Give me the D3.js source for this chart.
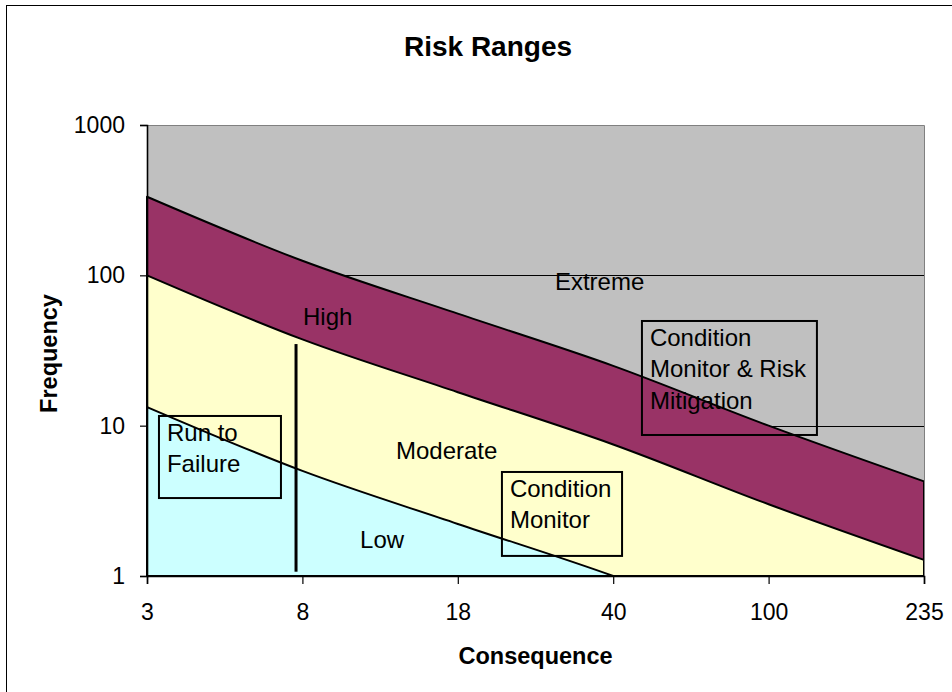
<!DOCTYPE html>
<html>
<head>
<meta charset="utf-8">
<script src="https://cdn.jsdelivr.net/npm/d3@7"></script>
<style>
  body { margin: 0; background: #fff; }
  svg { display: block; }
  text { font-family: Arial, "Liberation Sans", sans-serif; fill: #000; }
</style>
</head>
<body>
<svg id="chart" width="952" height="692"></svg>
<script>
// Consequence categories along the x axis
const categories = ["3", "8", "18", "40", "100", "235"];

// Frequency boundaries between risk bands, one value per category
const extremeBoundary = [333, 125, 55.6, 25, 10, 4.26];   // High / Extreme
const highBoundary    = [100, 37.5, 16.7, 7.5, 3, 1.28];  // Moderate / High
const lowBoundary     = [13.3, 5, 2.22, 1, 0.4, 0.17];    // Low / Moderate

// Log axis ticks and gridlines
const yTicks = [1, 10, 100, 1000];
const gridValues = [10, 100];

// Band names written inside the regions: [name, category position, frequency]
const bandLabels = [
  ["Extreme",  2.625, 80],
  ["High",     1.004, 46.7],
  ["Moderate", 1.602, 6.0],
  ["Low",      1.371, 1.53]
];

// Boxed notes: lines, left/right category position, top/bottom frequency
const notes = [
  { lines: ["Run to", "Failure"], i0: 0.077, i1: 0.862, top: 11.6, bottom: 3.30 },
  { lines: ["Condition", "Monitor"], i0: 2.284, i1: 3.057, top: 4.92, bottom: 1.36 },
  { lines: ["Condition", "Monitor & Risk", "Mitigation"], i0: 3.185, i1: 4.311, top: 49.7, bottom: 8.67 }
];

// Divider marking the run-to-failure limit
const divider = { i: 0.959, from: 1.068, to: 34.9 };

const svg = d3.select("#chart");
const plot = { left: 147, right: 924, top: 125, bottom: 576 };

const x = d3.scalePoint().domain(categories).range([plot.left, plot.right]).padding(0);
const xPos = i => x(categories[0]) + i * x.step();
const y = d3.scaleLog().domain([1, 1000]).range([plot.bottom, plot.top]);

// Chart area frame
svg.append("rect")
  .attr("x", 6.5).attr("y", 5.5)
  .attr("width", 1000).attr("height", 1000)
  .attr("fill", "#fff").attr("stroke", "#000").attr("stroke-width", 1);

// Plot background (the Extreme region)
svg.append("rect")
  .attr("x", plot.left).attr("y", plot.top)
  .attr("width", plot.right - plot.left).attr("height", plot.bottom - plot.top)
  .attr("fill", "#C0C0C0");

// Gridlines sit behind the bands
svg.append("g").selectAll("line").data(gridValues).join("line")
  .attr("x1", plot.left).attr("x2", plot.right)
  .attr("y1", d => Math.round(y(d)) + 0.5).attr("y2", d => Math.round(y(d)) + 0.5)
  .attr("stroke", "#000").attr("stroke-width", 1);

svg.append("clipPath").attr("id", "plotClip")
  .append("rect")
  .attr("x", plot.left - 2).attr("y", plot.top)
  .attr("width", plot.right - plot.left + 4).attr("height", plot.bottom - plot.top + 1);

const bands = [
  { values: extremeBoundary, fill: "#993366" },
  { values: highBoundary,    fill: "#FFFFCC" },
  { values: lowBoundary,     fill: "#CCFFFF" }
];

const area = d3.area()
  .x((d, i) => x(categories[i]))
  .y0(y(1))
  .y1(d => y(d))
  .curve(d3.curveMonotoneX);

svg.append("g").attr("clip-path", "url(#plotClip)")
  .selectAll("path").data(bands).join("path")
  .attr("d", d => area(d.values))
  .attr("fill", d => d.fill)
  .attr("stroke", "#000")
  .attr("stroke-width", 2)
  .attr("stroke-linejoin", "round");

// Plot frame: top and right edges
svg.append("path")
  .attr("d", `M${plot.left},${plot.top + 0.5}H${plot.right + 0.5}V${plot.bottom}`)
  .attr("fill", "none").attr("stroke", "#808080").attr("stroke-width", 1);

// Axes
const yAxis = svg.append("g")
  .attr("transform", `translate(${plot.left},0)`)
  .call(d3.axisLeft(y).tickValues(yTicks).tickFormat(d3.format("d")).tickSize(7).tickPadding(15));
const xAxis = svg.append("g")
  .attr("transform", `translate(0,${plot.bottom})`)
  .call(d3.axisBottom(x).tickSize(8).tickPadding(20));

[yAxis, xAxis].forEach(g => {
  g.select(".domain").attr("stroke", "#000").attr("stroke-width", 1.6);
  g.selectAll(".tick line").attr("stroke", "#000").attr("stroke-width", 1.2);
  g.selectAll(".tick text").attr("font-size", 23).attr("font-family", "Arial, 'Liberation Sans', sans-serif").attr("fill", "#000");
});

// Divider line
svg.append("line")
  .attr("x1", xPos(divider.i)).attr("x2", xPos(divider.i))
  .attr("y1", y(divider.from)).attr("y2", y(divider.to))
  .attr("stroke", "#000").attr("stroke-width", 3);

// Band names
svg.append("g").selectAll("text").data(bandLabels).join("text")
  .attr("x", d => xPos(d[1])).attr("y", d => y(d[2]))
  .attr("font-size", 24)
  .text(d => d[0]);

// Boxed notes
const noteG = svg.append("g").selectAll("g").data(notes).join("g");
noteG.append("rect")
  .attr("x", d => xPos(d.i0)).attr("y", d => y(d.top))
  .attr("width", d => xPos(d.i1) - xPos(d.i0))
  .attr("height", d => y(d.bottom) - y(d.top))
  .attr("fill", "none").attr("stroke", "#000").attr("stroke-width", 2);
noteG.each(function(d) {
  const g = d3.select(this);
  d.lines.forEach((line, k) => {
    g.append("text")
      .attr("x", xPos(d.i0) + 8)
      .attr("y", y(d.top) + 25 + k * 31.5)
      .attr("font-size", 24)
      .text(line);
  });
});

// Titles
svg.append("text")
  .attr("x", 488).attr("y", 56)
  .attr("text-anchor", "middle")
  .attr("font-size", 28).attr("font-weight", "bold")
  .text("Risk Ranges");

svg.append("text")
  .attr("transform", `translate(57,${(plot.top + plot.bottom) / 2 + 3}) rotate(-90)`)
  .attr("text-anchor", "middle")
  .attr("font-size", 23.5).attr("font-weight", "bold")
  .text("Frequency");

svg.append("text")
  .attr("x", (plot.left + plot.right) / 2).attr("y", 664)
  .attr("text-anchor", "middle")
  .attr("font-size", 23.5).attr("font-weight", "bold")
  .text("Consequence");
</script>
</body>
</html>
